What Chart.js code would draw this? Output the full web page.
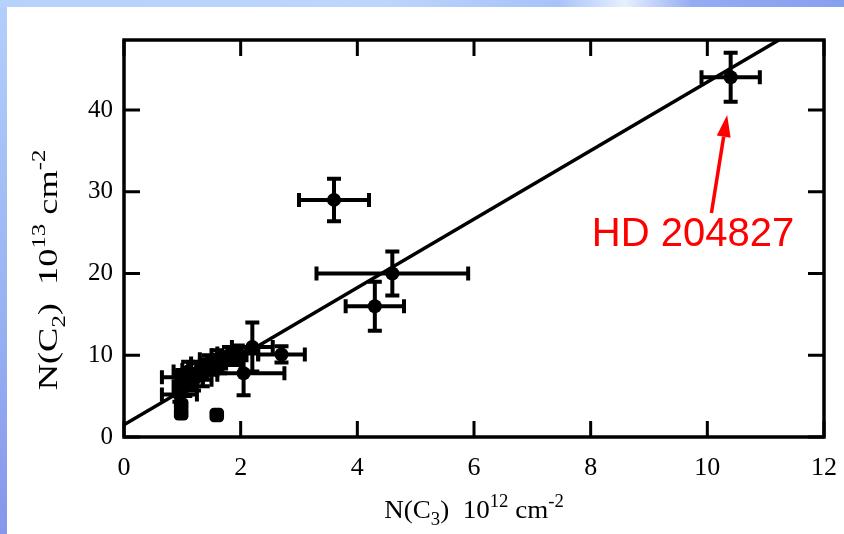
<!DOCTYPE html>
<html>
<head>
<meta charset="utf-8">
<script src="https://cdn.jsdelivr.net/npm/chart.js@4.4.0/dist/chart.umd.min.js"></script>
<style>
    html, body { margin: 0; padding: 0; }
    body {
        width: 844px; height: 534px; overflow: hidden; position: relative;
        background: linear-gradient(180deg, #b4cffb 0%, #9ab4f3 55%, #8696ec 100%);
    }
    #topband {
        position: absolute; left: 0; top: 0; width: 844px; height: 7px;
        background: linear-gradient(90deg, #b6d2fb 0%, #bcd6fc 45%, #a6c2f8 66%, #e6f0ff 74%, #94acf2 82%, #86a0f0 100%);
    }
    #panel { position: absolute; left: 7px; top: 7px; right: 0; bottom: 0; background: #fff; }
    #wrap { position: absolute; left: 0; top: 0; width: 844px; height: 534px; }
</style>
</head>
<body>
<div id="topband"></div>
<div id="panel"></div>
<div id="wrap"><canvas id="c2c3" width="844" height="534"></canvas></div>
<script>
// N(C3) [1e12 cm^-2] vs N(C2) [1e13 cm^-2], with error bars
const c3    = [10.4, 3.6, 4.6, 4.3, 2.7, 2.2, 2.05, 1.95, 1.8, 1.65, 1.6, 1.45, 1.35, 1.3, 1.2, 1.1, 1.05, 1.0, 0.95];
const c2    = [44,   29,  20,  16,  10.1, 11, 7.8,  10.2, 10.0, 8.8, 9.5, 9.0,  7.6,  8.2, 7.0, 8.0, 6.2,  7.3, 5.2];
const c3Err = [0.5,  0.6, 1.3, 0.5, 0.4, 0.35, 0.7, 0.35, 0.3, 0.35, 0.3, 0.3,  0.25, 0.3, 0.3, 0.25, 0.2, 0.35, 0.3];
const c2Err = [3,    2.6, 2.7, 3,   1.0, 3.0, 2.7,  1.0,  1.0, 1.0,  1.1, 1.0,  1.4,  1.0, 1.3, 1.2, 1.2,  0.9, 0.9];

// points without error bars
const c3Bare = [0.98, 0.98, 1.59];
const c2Bare = [3.9,  2.9,  2.7];

// fitted line end points
const fitX = [0, 12];
const fitY = [1.5, 51.8];

const xTicks = [0, 2, 4, 6, 8, 10, 12];
const yTicks = [0, 10, 20, 30, 40];

// annotation
const noteText = "HD 204827";
const noteAt = [8.02, 23.4];
const arrowFrom = [10.07, 27.4];
const arrowTo = [10.34, 39.4];

const serif = "'Liberation Serif', 'Times New Roman', serif";

const errorBars = {
    id: "errorBars",
    beforeDatasetsDraw(chart) {
        const { ctx, scales: { x, y } } = chart;
        ctx.save();
        ctx.strokeStyle = "#000";
        ctx.lineWidth = 4;
        ctx.lineCap = "butt";
        const cap = 7;
        c3.forEach((v, i) => {
            const px = x.getPixelForValue(v);
            const py = y.getPixelForValue(c2[i]);
            const x0 = x.getPixelForValue(v - c3Err[i]);
            const x1 = x.getPixelForValue(v + c3Err[i]);
            const y0 = y.getPixelForValue(c2[i] - c2Err[i]);
            const y1 = y.getPixelForValue(c2[i] + c2Err[i]);
            ctx.beginPath();
            ctx.moveTo(x0, py); ctx.lineTo(x1, py);
            ctx.moveTo(x0, py - cap); ctx.lineTo(x0, py + cap);
            ctx.moveTo(x1, py - cap); ctx.lineTo(x1, py + cap);
            ctx.moveTo(px, y0); ctx.lineTo(px, y1);
            ctx.moveTo(px - cap, y0); ctx.lineTo(px + cap, y0);
            ctx.moveTo(px - cap, y1); ctx.lineTo(px + cap, y1);
            ctx.stroke();
        });
        ctx.restore();
    }
};

function richWidth(ctx, parts, size, small) {
    let w = 0;
    parts.forEach(p => {
        ctx.font = (p.sub || p.sup ? small : size) + "px " + serif;
        w += ctx.measureText(p.t).width;
    });
    return w;
}

function drawRich(ctx, parts, size, small) {
    const total = richWidth(ctx, parts, size, small);
    let cx = -total / 2;
    ctx.textBaseline = "alphabetic";
    ctx.textAlign = "left";
    parts.forEach(p => {
        ctx.font = (p.sub || p.sup ? small : size) + "px " + serif;
        const dy = p.sub ? size * 0.28 : p.sup ? -size * 0.42 : 0;
        ctx.fillText(p.t, cx, dy);
        cx += ctx.measureText(p.t).width;
    });
}

const frame = {
    id: "frame",
    afterDraw(chart) {
        const { ctx, chartArea: a, scales: { x, y } } = chart;
        ctx.save();
        ctx.strokeStyle = "#000";
        ctx.fillStyle = "#000";
        ctx.lineWidth = 3.5;
        ctx.strokeRect(a.left, a.top, a.right - a.left, a.bottom - a.top);
        const tl = 16;
        ctx.lineWidth = 3;
        ctx.beginPath();
        xTicks.forEach(v => {
            const px = x.getPixelForValue(v);
            ctx.moveTo(px, a.bottom); ctx.lineTo(px, a.bottom - tl);
            ctx.moveTo(px, a.top); ctx.lineTo(px, a.top + tl);
        });
        yTicks.forEach(v => {
            const py = y.getPixelForValue(v);
            ctx.moveTo(a.left, py); ctx.lineTo(a.left + tl, py);
            ctx.moveTo(a.right, py); ctx.lineTo(a.right - tl, py);
        });
        ctx.stroke();

        // axis titles
        ctx.save();
        ctx.translate((a.left + a.right) / 2, 518);
        ctx.scale(1.04, 1);
        drawRich(ctx, [
            { t: "N(C" }, { t: "3", sub: true }, { t: ")  10" }, { t: "12", sup: true },
            { t: " cm" }, { t: "-2", sup: true }
        ], 26, 18);
        ctx.restore();

        ctx.save();
        ctx.translate(57, 270);
        ctx.rotate(-Math.PI / 2);
        ctx.scale(1.3, 1);
        drawRich(ctx, [
            { t: "N(C" }, { t: "2", sub: true }, { t: ")  10" }, { t: "13", sup: true },
            { t: " cm" }, { t: "-2", sup: true }
        ], 28, 19);
        ctx.restore();

        // annotation
        ctx.fillStyle = "#ff0000";
        ctx.strokeStyle = "#ff0000";
        ctx.font = "40px 'Liberation Sans', Arial, sans-serif";
        ctx.textAlign = "left";
        ctx.textBaseline = "alphabetic";
        ctx.fillText(noteText, x.getPixelForValue(noteAt[0]), y.getPixelForValue(noteAt[1]));
        const fx = x.getPixelForValue(arrowFrom[0]), fy = y.getPixelForValue(arrowFrom[1]);
        const tx = x.getPixelForValue(arrowTo[0]), ty = y.getPixelForValue(arrowTo[1]);
        const ang = Math.atan2(ty - fy, tx - fx);
        const head = 22, half = 7;
        const bx = tx - head * Math.cos(ang), by = ty - head * Math.sin(ang);
        ctx.lineWidth = 3.5;
        ctx.beginPath();
        ctx.moveTo(fx, fy); ctx.lineTo(bx, by);
        ctx.stroke();
        ctx.beginPath();
        ctx.moveTo(tx, ty);
        ctx.lineTo(bx + half * Math.sin(ang), by - half * Math.cos(ang));
        ctx.lineTo(bx - half * Math.sin(ang), by + half * Math.cos(ang));
        ctx.closePath();
        ctx.fill();
        ctx.restore();
    }
};

new Chart(document.getElementById("c2c3"), {
    type: "scatter",
    data: {
        datasets: [
            {
                data: c3.map((v, i) => ({ x: v, y: c2[i] })),
                pointRadius: 7,
                pointBackgroundColor: "#000",
                pointBorderWidth: 0,
                order: 1
            },
            {
                data: c3Bare.map((v, i) => ({ x: v, y: c2Bare[i] })),
                pointStyle: "rectRounded",
                pointRadius: 8.5,
                pointBackgroundColor: "#000",
                pointBorderWidth: 0,
                order: 2
            },
            {
                type: "line",
                data: fitX.map((v, i) => ({ x: v, y: fitY[i] })),
                borderColor: "#000",
                borderWidth: 3.5,
                pointRadius: 0,
                fill: false,
                order: 3
            }
        ]
    },
    options: {
        responsive: false,
        animation: false,
        layout: { padding: { left: 0, top: 40, right: 20, bottom: 0 } },
        plugins: { legend: { display: false }, tooltip: { enabled: false } },
        scales: {
            x: {
                type: "linear",
                min: 0, max: 12,
                grid: { display: false, drawTicks: false },
                border: { display: false },
                ticks: { stepSize: 2, padding: 16, color: "#000", font: { family: serif, size: 26 } },
                afterFit(s) { s.height = 97; s.paddingLeft = 0; s.paddingRight = 0; }
            },
            y: {
                type: "linear",
                min: 0, max: 48.56,
                grid: { display: false, drawTicks: false },
                border: { display: false },
                ticks: { stepSize: 10, includeBounds: false, padding: 11, color: "#000", font: { family: serif, size: 25 } },
                afterFit(s) { s.width = 124; s.paddingTop = 0; s.paddingBottom = 0; }
            }
        }
    },
    plugins: [errorBars, frame]
});
</script>
</body>
</html>
